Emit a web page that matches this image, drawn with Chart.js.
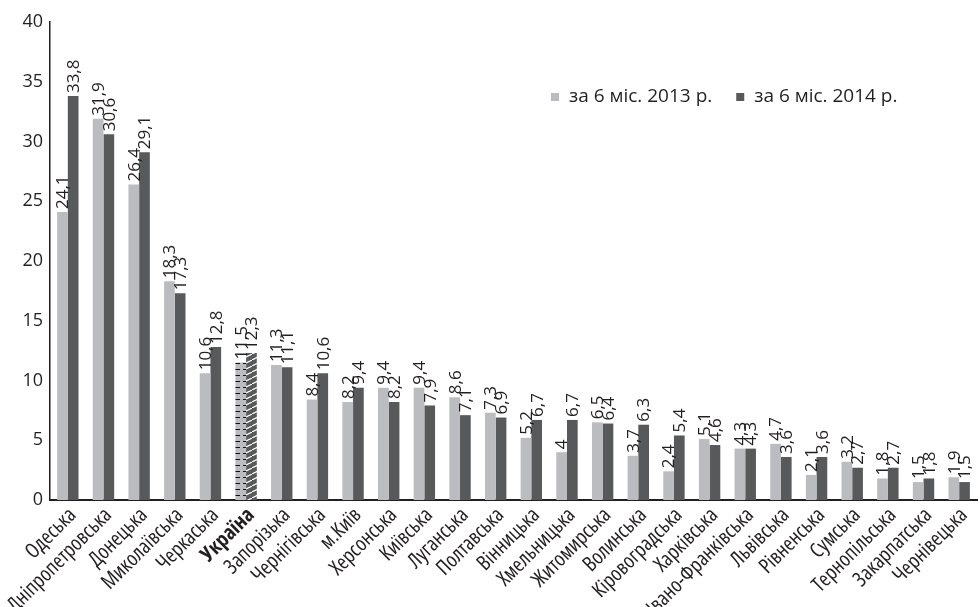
<!DOCTYPE html>
<html>
<head>
<meta charset="utf-8">
<script src="https://cdn.jsdelivr.net/npm/chart.js@4.4.1/dist/chart.umd.min.js"></script>
<style>
  body { margin: 0; background: #fff; }
</style>
</head>
<body>
<canvas id="chart" width="980" height="607"></canvas>
<script>
// --- data ---
const regions = ['Одеська', 'Дніпропетровська', 'Донецька', 'Миколаївська', 'Черкаська', 'Україна',
  'Запорізька', 'Чернігівська', 'м.Київ', 'Херсонська', 'Київська', 'Луганська', 'Полтавська',
  'Вінницька', 'Хмельницька', 'Житомирська', 'Волинська', 'Кіровоградська', 'Харківська',
  'Івано-Франківська', 'Львівська', 'Рівненська', 'Сумська', 'Тернопільська', 'Закарпатська', 'Чернівецька'];

const values2013 = [24.1, 31.9, 26.4, 18.3, 10.6, 11.5, 11.3, 8.4, 8.2, 9.4, 9.4, 8.6, 7.3,
  5.2, 4, 6.5, 3.7, 2.4, 5.1, 4.3, 4.7, 2.1, 3.2, 1.8, 1.5, 1.9];

const values2014 = [33.8, 30.6, 29.1, 17.3, 12.8, 12.3, 11.1, 10.6, 9.4, 8.2, 7.9, 7.1, 6.9,
  6.7, 6.7, 6.4, 6.3, 5.4, 4.6, 4.3, 3.6, 3.6, 2.7, 2.7, 1.8, 1.5];

const seriesNames = ['за 6 міс. 2013 р.', 'за 6 міс. 2014 р.'];

const yMax = 40;
const yStep = 5;

// --- look ---
const LIGHT = '#bbbcc0';
const DARK = '#58595b';
const INK = '#231f20';
const FONT = '"Open Sans", sans-serif';
const TOTAL_IDX = regions.indexOf('Україна');

const ctx = document.getElementById('chart').getContext('2d');

// hatch fills for the all-Ukraine bars
function makePattern(w, h, bg, draw) {
  const c = document.createElement('canvas');
  c.width = w; c.height = h;
  const g = c.getContext('2d');
  g.fillStyle = bg;
  g.fillRect(0, 0, w, h);
  draw(g);
  return ctx.createPattern(c, 'repeat');
}

const lightHatch = makePattern(11, 6, LIGHT, g => {
  g.fillStyle = '#111';
  g.fillRect(1, 3, 8, 1);
});

const darkHatch = makePattern(12, 6, DARK, g => {
  g.strokeStyle = '#fff';
  g.lineWidth = 1.2;
  g.beginPath();
  g.moveTo(-12, 12); g.lineTo(12, 0);
  g.moveTo(0, 6); g.lineTo(12, 0);
  g.moveTo(0, 6); g.lineTo(24, -6);
  g.stroke();
});

// rotated value text above each bar
const barValues = {
  id: 'barValues',
  afterDatasetsDraw(chart) {
    const c = chart.ctx;
    c.save();
    c.font = '17px ' + FONT;
    c.fillStyle = INK;
    c.textAlign = 'left';
    c.textBaseline = 'middle';
    chart.data.datasets.forEach((ds, i) => {
      chart.getDatasetMeta(i).data.forEach((bar, j) => {
        c.save();
        c.translate(bar.x + 1, bar.y - 3);
        c.rotate(-Math.PI / 2);
        c.fillText(String(ds.data[j]).replace('.', ','), 0, 0);
        c.restore();
      });
    });
    c.restore();
  }
};

// legend inside the plot, top right
const legendBox = {
  id: 'legendBox',
  afterDraw(chart) {
    const c = chart.ctx;
    let x = 551;
    const y = 97;
    c.save();
    c.font = '19px ' + FONT;
    c.textBaseline = 'middle';
    chart.data.datasets.forEach(ds => {
      c.fillStyle = ds.swatch;
      c.fillRect(x, y - 4, 8, 8);
      c.fillStyle = INK;
      c.fillText(ds.label, x + 18, y);
      x += 18 + c.measureText(ds.label).width + 24;
    });
    c.restore();
  }
};

new Chart(ctx, {
  type: 'bar',
  data: {
    labels: regions,
    datasets: [
      {
        label: seriesNames[0],
        data: values2013,
        swatch: LIGHT,
        backgroundColor: c => c.dataIndex === TOTAL_IDX ? lightHatch : LIGHT,
        categoryPercentage: 0.6,
        barPercentage: 1
      },
      {
        label: seriesNames[1],
        data: values2014,
        swatch: DARK,
        backgroundColor: c => c.dataIndex === TOTAL_IDX ? darkHatch : DARK,
        categoryPercentage: 0.6,
        barPercentage: 1
      }
    ]
  },
  options: {
    responsive: false,
    animation: false,
    layout: { padding: { top: 22, left: 0, right: 0, bottom: 0 } },
    plugins: {
      legend: { display: false },
      tooltip: { enabled: false }
    },
    scales: {
      x: {
        grid: { display: false, drawTicks: false },
        border: { color: INK, width: 2 },
        ticks: {
          minRotation: 45,
          maxRotation: 45,
          autoSkip: false,
          padding: 3,
          labelOffset: 5,
          color: INK,
          // weight string carries the condensed stretch too
          font: c => ({ family: FONT, size: 21, weight: c.index === TOTAL_IDX ? 'bold condensed' : 'condensed' })
        },
        afterFit(s) { s.height = 107; }
      },
      y: {
        min: 0,
        max: yMax,
        grid: { display: false, drawTicks: false },
        border: { color: INK, width: 1.5 },
        ticks: {
          stepSize: yStep,
          padding: 7,
          color: INK,
          font: { family: FONT, size: 18 }
        },
        afterFit(s) { s.width = 50; }
      }
    }
  },
  plugins: [barValues, legendBox]
});
</script>
</body>
</html>
